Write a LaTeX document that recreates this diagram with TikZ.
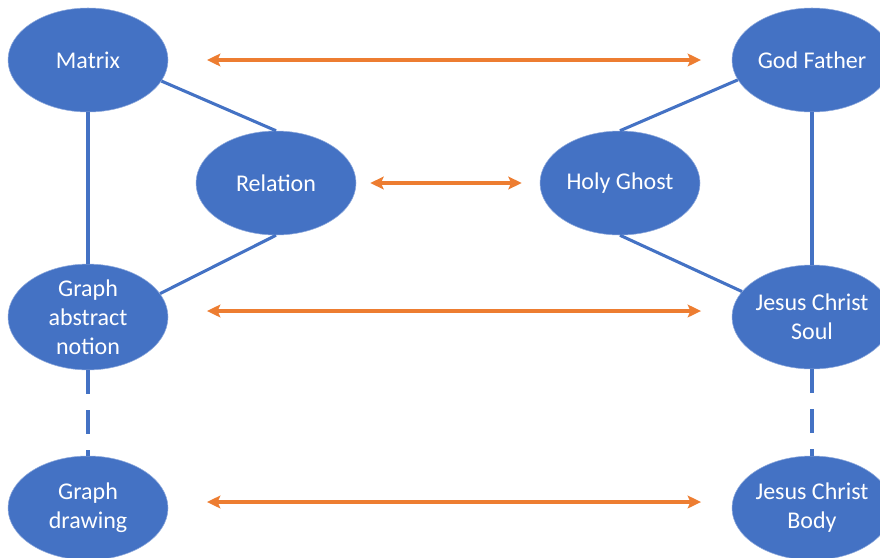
\documentclass[tikz,border=0pt]{standalone}
\usepackage{fontspec}
\setmainfont{Carlito}
\usepackage{tikz}
\usetikzlibrary{positioning,shapes.geometric,arrows.meta}

\definecolor{oblue}{HTML}{4472C4}
\definecolor{oorange}{HTML}{ED7D31}

\tikzset{
  bubble/.style={ellipse,fill=oblue,draw=oblue!60!white,line width=0.4pt,
    minimum width=120pt,minimum height=78pt,inner sep=0pt,text=white,
    align=center,font=\fontsize{18}{21.75}\selectfont},
  link/.style={draw=oblue,line width=2.3pt},
  dlink/.style={link,dash pattern=on 18pt off 12pt},
  twin/.style={draw=oorange,line width=2.3pt,
    {Stealth[length=10pt,width=9.5pt,inset=2pt]}-{Stealth[length=10pt,width=9.5pt,inset=2pt]}}
}

\begin{document}
\begin{tikzpicture}[x=0.75pt,y=0.75pt,yscale=-1,xscale=1]
\useasboundingbox (0,0) rectangle (880,557);

% Ellipses
\node[bubble] (matrix) at (88,60) {Matrix};
\node[bubble] (relation) at (276,183) {Relation};
\node[bubble] (gan) at (88,317) {Graph\\abstract\\notion};
\node[bubble] (gdraw) at (88,508) {Graph\\drawing};
\node[bubble] (father) at (812,60) {God Father};
\node[bubble] (ghost) at (620,183) {Holy Ghost};
\node[bubble] (soul) at (812,317) {Jesus Christ\\Soul};
\node[bubble] (body) at (812,508) {Jesus Christ\\Body};

% Straight Lines
\draw[link] (matrix) -- (gan);
\draw[link] (matrix.-16) -- (relation.north);
\draw[link] (relation.south) -- (gan.18);
\draw[link] (father) -- (soul);
\draw[link] (father.195) -- (ghost.north);
\draw[link] (ghost.south) -- (soul.160);

% Dashed Lines
\draw[dlink] (gan) -- (gdraw);
\draw[dlink] (soul) -- (body);

% Arrows
\draw[twin,shorten <=29pt,shorten >=23pt] (matrix.east) -- (father.west);
\draw[twin,shorten <=10.5pt,shorten >=13.5pt] (relation.east) -- (ghost.west);
\draw[twin,shorten <=29pt,shorten >=23pt] ([yshift=-4.5pt]gan.east) -- ([yshift=-4.5pt]soul.west);
\draw[twin,shorten <=29pt,shorten >=23pt] ([yshift=-4.5pt]gdraw.east) -- ([yshift=-4.5pt]body.west);
\end{tikzpicture}
\end{document}
